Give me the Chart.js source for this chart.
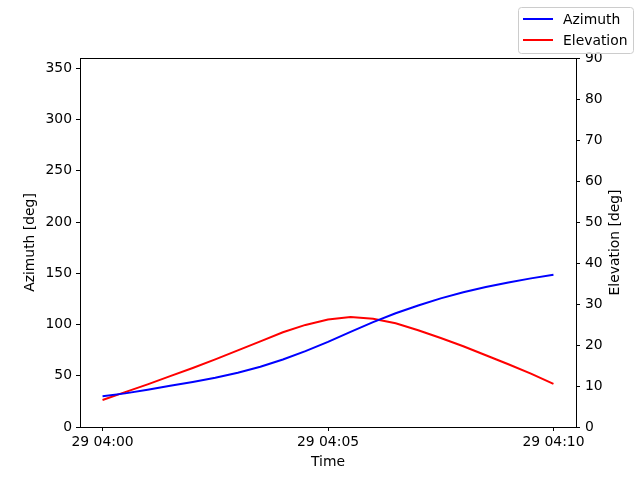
<!DOCTYPE html>
<html>
<head>
<meta charset="utf-8">
<script src="https://cdn.jsdelivr.net/npm/chart.js@4.4.1/dist/chart.umd.min.js"></script>
<style>
  html, body { margin: 0; padding: 0; background: #fff; }
  #wrap { width: 640px; height: 480px; }
</style>
</head>
<body>
<div id="wrap"><canvas id="grafica" width="640" height="480"></canvas></div>
<script>
// time of each sample (day 29), 30 s apart
const tiempos = [
   '04:00:00', '04:00:30', '04:01:00', '04:01:30', '04:02:00', '04:02:30', '04:03:00',
   '04:03:30', '04:04:00', '04:04:30', '04:05:00', '04:05:30', '04:06:00', '04:06:30',
   '04:07:00', '04:07:30', '04:08:00', '04:08:30', '04:09:00', '04:09:30', '04:10:00'
];
const azimut = [
   30, 32.8, 36.3, 40.3, 44, 48, 53, 58.8, 65.8, 74, 83,
   92.8, 102.3, 111, 118.5, 125.5, 131.5, 136.5, 141, 145, 148.5
];
const elevacion = [
   6.6, 8.5, 10.4, 12.4, 14.4, 16.5, 18.7, 20.9, 23.1, 24.9, 26.2,
   26.8, 26.4, 25.3, 23.6, 21.7, 19.7, 17.5, 15.3, 13.0, 10.5
];
const ticksTiempo = ['04:00:00', '04:05:00', '04:10:00'];

// seconds since 04:00:00
function segundos(t) {
   const p = t.split(':').map(Number);
   return (p[0] - 4) * 3600 + p[1] * 60 + p[2];
}
function etiqueta(s) {
   const m = Math.round(s / 60);
   return '29 04:' + String(m).padStart(2, '0');
}

const FUENTE = { family: 'DejaVu Sans', size: 13.9 };
const eje = {
   grid: { drawOnChartArea: false, drawTicks: true, tickLength: 4, color: '#000', lineWidth: 1 },
   border: { display: true, color: '#000', width: 1 }
};

// frame top edge, right axis title and the legend box
const extras = {
   id: 'extras',
   afterDraw(chart) {
      const c = chart.ctx;
      const a = chart.chartArea;
      c.save();
      c.strokeStyle = '#000';
      c.lineWidth = 1;
      c.beginPath();
      c.moveTo(a.left, Math.round(a.top) + 0.5);
      c.lineTo(a.right, Math.round(a.top) + 0.5);
      c.stroke();

      c.fillStyle = '#000';
      c.font = '13.9px "DejaVu Sans"';
      c.textAlign = 'center';
      c.textBaseline = 'middle';
      c.translate(615, (a.top + a.bottom) / 2);
      c.rotate(-Math.PI / 2);
      c.fillText('Elevation [deg]', 0, 0);
      c.restore();

      // legend
      c.save();
      const x0 = 518.5, y0 = 7.5, w = 115, h = 46, r = 3;
      c.fillStyle = 'rgba(255,255,255,0.8)';
      c.strokeStyle = '#cccccc';
      c.lineWidth = 1;
      c.beginPath();
      c.roundRect(x0, y0, w, h, r);
      c.fill();
      c.stroke();
      c.font = '13.9px "DejaVu Sans"';
      c.textBaseline = 'middle';
      c.textAlign = 'left';
      chart.data.datasets.forEach((ds, i) => {
         const y = 19 + i * 21;
         c.strokeStyle = ds.borderColor;
         c.lineWidth = 2;
         c.beginPath();
         c.moveTo(523, y);
         c.lineTo(553, y);
         c.stroke();
         c.fillStyle = '#000';
         c.fillText(ds.label, 563, y + 1);
      });
      c.restore();
   }
};

const ctx = document.getElementById('grafica').getContext('2d');

const chart = new Chart(ctx, {
   type: 'line',
   data: {
      datasets: [{
         label: 'Azimuth',
         data: tiempos.map((t, i) => ({ x: segundos(t), y: azimut[i] })),
         borderColor: '#0000ff',
         borderWidth: 2,
         pointRadius: 0,
         tension: 0,
         yAxisID: 'y'
      }, {
         label: 'Elevation',
         data: tiempos.map((t, i) => ({ x: segundos(t), y: elevacion[i] })),
         borderColor: '#ff0000',
         borderWidth: 2,
         pointRadius: 0,
         tension: 0,
         yAxisID: 'y1'
      }]
   },
   options: {
      responsive: false,
      animation: false,
      devicePixelRatio: 1,
      layout: { padding: { top: 58, left: 0, right: 0, bottom: 0 } },
      plugins: { legend: { display: false }, tooltip: { enabled: false } },
      scales: {
         x: {
            ...eje,
            type: 'linear',
            min: -30,
            max: 630,
            afterBuildTicks: s => { s.ticks = ticksTiempo.map(t => ({ value: segundos(t) })); },
            afterFit: s => { s.height = 53; },
            ticks: { color: '#000', font: FUENTE, padding: 3, maxRotation: 0, callback: v => etiqueta(v) },
            title: { display: true, text: 'Time', color: '#000', font: FUENTE, padding: { top: 0, bottom: 9 } }
         },
         y: {
            ...eje,
            position: 'left',
            min: 0,
            max: 360,
            afterBuildTicks: s => { s.ticks = [0, 50, 100, 150, 200, 250, 300, 350].map(v => ({ value: v })); },
            afterFit: s => { s.width = 80; },
            ticks: { color: '#000', font: FUENTE, padding: 4 },
            title: { display: true, text: 'Azimuth [deg]', color: '#000', font: FUENTE, padding: { top: 22, bottom: 0 } }
         },
         y1: {
            ...eje,
            position: 'right',
            min: 0,
            max: 90,
            afterBuildTicks: s => { s.ticks = [0, 10, 20, 30, 40, 50, 60, 70, 80, 90].map(v => ({ value: v })); },
            afterFit: s => { s.width = 64; },
            ticks: { color: '#000', font: FUENTE, padding: 5 }
         }
      }
   },
   plugins: [extras]
});
</script>
</body>
</html>
